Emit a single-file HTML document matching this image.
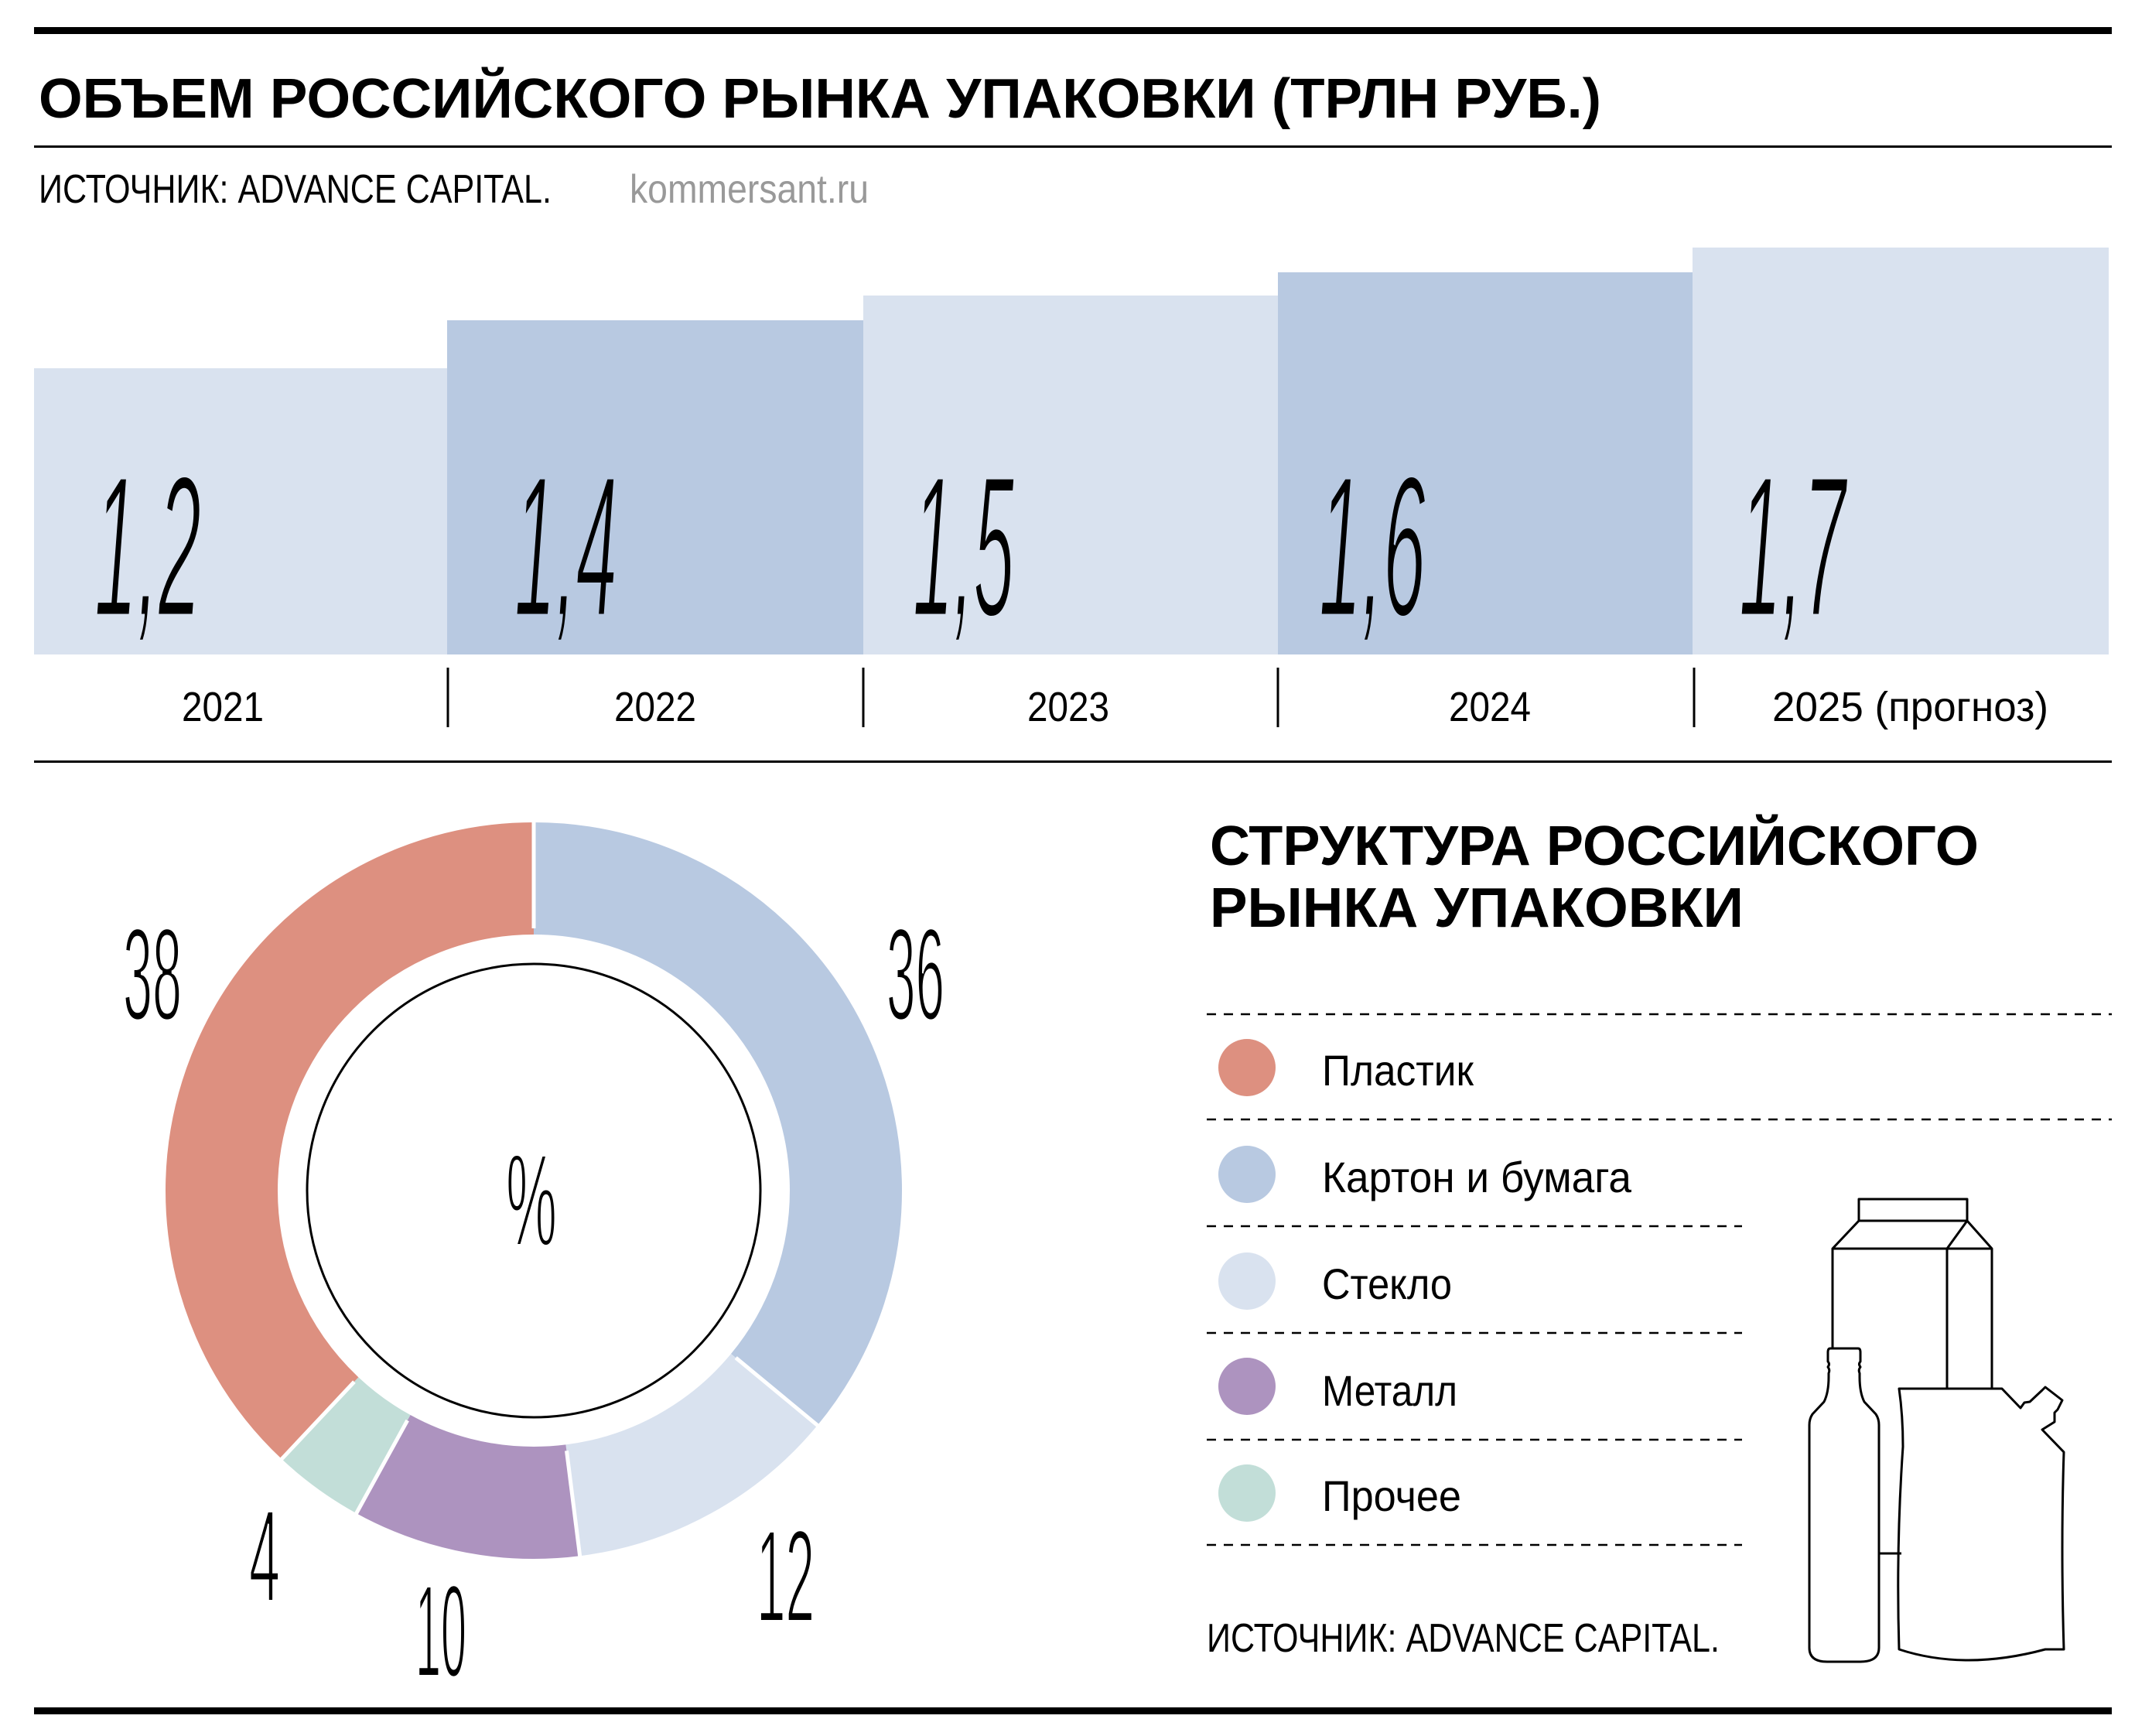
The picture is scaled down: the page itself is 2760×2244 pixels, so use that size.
<!DOCTYPE html>
<html><head><meta charset="utf-8"><style>
html,body{margin:0;padding:0;background:#fff}
svg{display:block}
text{font-family:"Liberation Sans","Noto Sans CJK SC",sans-serif}
</style></head><body>
<svg width="2760" height="2244" viewBox="0 0 2760 2244" xmlns="http://www.w3.org/2000/svg">
<rect x="44" y="35" width="2686" height="9" fill="#000"/>
<text x="50" y="152" font-size="72" font-weight="bold" textLength="2020" lengthAdjust="spacingAndGlyphs">ОБЪЕМ РОССИЙСКОГО РЫНКА УПАКОВКИ (ТРЛН РУБ.)</text>
<rect x="44" y="188" width="2686" height="3" fill="#000"/>
<text x="50" y="262" font-size="52" textLength="663" lengthAdjust="spacingAndGlyphs">ИСТОЧНИК: ADVANCE CAPITAL.</text>
<text x="814" y="262" font-size="52" fill="#999" textLength="309" lengthAdjust="spacingAndGlyphs">kommersant.ru</text>
<!-- bars -->
<rect x="44" y="476" width="534" height="370" fill="#d9e2ef"/>
<rect x="578" y="414" width="538" height="432" fill="#b8c9e1"/>
<rect x="1116" y="382" width="536" height="464" fill="#d9e2ef"/>
<rect x="1652" y="352" width="536" height="494" fill="#b8c9e1"/>
<rect x="2188" y="320" width="538" height="526" fill="#d9e2ef"/>
<g font-size="260" font-style="italic" stroke-width="5">
<text x="122" y="796" textLength="138" lengthAdjust="spacingAndGlyphs" stroke="#d9e2ef">1,2</text>
<text x="665" y="796" textLength="133" lengthAdjust="spacingAndGlyphs" stroke="#b8c9e1">1,4</text>
<text x="1180" y="796" textLength="131" lengthAdjust="spacingAndGlyphs" stroke="#d9e2ef">1,5</text>
<text x="1705" y="796" textLength="138" lengthAdjust="spacingAndGlyphs" stroke="#b8c9e1">1,6</text>
<text x="2248" y="796" textLength="138" lengthAdjust="spacingAndGlyphs" stroke="#d9e2ef">1,7</text>
</g>
<g font-size="54">
<text x="235" y="932" textLength="106" lengthAdjust="spacingAndGlyphs">2021</text>
<text x="794" y="932" textLength="106" lengthAdjust="spacingAndGlyphs">2022</text>
<text x="1328" y="932" textLength="106" lengthAdjust="spacingAndGlyphs">2023</text>
<text x="1873" y="932" textLength="106" lengthAdjust="spacingAndGlyphs">2024</text>
<text x="2291" y="932" textLength="357" lengthAdjust="spacingAndGlyphs">2025 (прогноз)</text>
</g>
<g stroke="#000" stroke-width="3">
<line x1="579" y1="863" x2="579" y2="940"/>
<line x1="1116" y1="863" x2="1116" y2="940"/>
<line x1="1652" y1="863" x2="1652" y2="940"/>
<line x1="2190" y1="863" x2="2190" y2="940"/>
</g>
<rect x="44" y="983" width="2686" height="3" fill="#000"/>
<!-- donut -->
<g transform="rotate(-90 690 1539)" fill="none" stroke-width="145">
<circle cx="690" cy="1539" r="403.5" stroke="#b8c9e1" stroke-dasharray="912.7 3000" stroke-dashoffset="0"/>
<circle cx="690" cy="1539" r="403.5" stroke="#d9e2ef" stroke-dasharray="304.2 3000" stroke-dashoffset="-912.7"/>
<circle cx="690" cy="1539" r="403.5" stroke="#ad93bf" stroke-dasharray="253.5 3000" stroke-dashoffset="-1216.9"/>
<circle cx="690" cy="1539" r="403.5" stroke="#c2ded8" stroke-dasharray="101.4 3000" stroke-dashoffset="-1470.4"/>
<circle cx="690" cy="1539" r="403.5" stroke="#dd9080" stroke-dasharray="963.4 3000" stroke-dashoffset="-1571.8"/>
</g>
<g stroke="#fff" stroke-width="5">
<line x1="690" y1="1200" x2="690" y2="1050" transform="rotate(0 690 1539)"/>
<line x1="690" y1="1200" x2="690" y2="1050" transform="rotate(129.6 690 1539)"/>
<line x1="690" y1="1200" x2="690" y2="1050" transform="rotate(172.8 690 1539)"/>
<line x1="690" y1="1200" x2="690" y2="1050" transform="rotate(208.8 690 1539)"/>
<line x1="690" y1="1200" x2="690" y2="1050" transform="rotate(223.2 690 1539)"/>
</g>
<circle cx="690" cy="1539" r="293" fill="none" stroke="#000" stroke-width="3"/>
<g font-size="170" stroke="#fff" stroke-width="4">
<text x="159" y="1318" textLength="76" lengthAdjust="spacingAndGlyphs">38</text>
<text x="1146" y="1318" textLength="75" lengthAdjust="spacingAndGlyphs">36</text>
<text x="978" y="2096" textLength="75" lengthAdjust="spacingAndGlyphs">12</text>
<text x="537" y="2167" textLength="66" lengthAdjust="spacingAndGlyphs">10</text>
<text x="322" y="2070" textLength="40" lengthAdjust="spacingAndGlyphs">4</text>
<text x="654" y="1610" textLength="66" lengthAdjust="spacingAndGlyphs">%</text>
</g>
<!-- right -->
<text x="1564" y="1118" font-size="72" font-weight="bold" textLength="994" lengthAdjust="spacingAndGlyphs">СТРУКТУРА РОССИЙСКОГО</text>
<text x="1564" y="1198" font-size="72" font-weight="bold" textLength="690" lengthAdjust="spacingAndGlyphs">РЫНКА УПАКОВКИ</text>
<g stroke="#000" stroke-width="2.5" stroke-dasharray="12 10">
<line x1="1560" y1="1311" x2="2730" y2="1311"/>
<line x1="1560" y1="1447" x2="2730" y2="1447"/>
<line x1="1560" y1="1585" x2="2252" y2="1585"/>
<line x1="1560" y1="1723" x2="2252" y2="1723"/>
<line x1="1560" y1="1861" x2="2252" y2="1861"/>
<line x1="1560" y1="1997" x2="2252" y2="1997"/>
</g>
<circle cx="1612" cy="1380" r="37" fill="#dd9080"/>
<circle cx="1612" cy="1518" r="37" fill="#b8c9e1"/>
<circle cx="1612" cy="1656" r="37" fill="#d9e2ef"/>
<circle cx="1612" cy="1792" r="37" fill="#ad93bf"/>
<circle cx="1612" cy="1930" r="37" fill="#c2ded8"/>
<g font-size="56">
<text x="1709" y="1403" textLength="196" lengthAdjust="spacingAndGlyphs">Пластик</text>
<text x="1709" y="1541" textLength="400" lengthAdjust="spacingAndGlyphs">Картон и бумага</text>
<text x="1709" y="1679" textLength="168" lengthAdjust="spacingAndGlyphs">Стекло</text>
<text x="1709" y="1817" textLength="175" lengthAdjust="spacingAndGlyphs">Металл</text>
<text x="1709" y="1953" textLength="180" lengthAdjust="spacingAndGlyphs">Прочее</text>
</g>
<text x="1560" y="2135" font-size="52" textLength="663" lengthAdjust="spacingAndGlyphs">ИСТОЧНИК: ADVANCE CAPITAL.</text>
<!-- illustration -->
<g fill="none" stroke="#000" stroke-width="3" stroke-linejoin="round">
<rect x="2403" y="1550" width="140" height="28"/>
<path d="M2403 1578 L2369 1614 L2575 1614 L2543 1578 L2517 1614 M2369 1614 L2369 1742 M2517 1614 L2517 1795 M2575 1614 L2575 1795"/>
<path d="M2366 1743 L2402 1743 Q2405 1743 2405 1748 L2405 1760 Q2402 1763 2405 1767 Q2402 1771 2404 1775 L2404 1780 Q2404 1800 2410 1812 L2425 1828 Q2429 1834 2429 1842 L2429 2130 Q2429 2148 2405 2148 L2362 2148 Q2339 2148 2339 2130 L2339 1842 Q2339 1834 2343 1828 L2358 1812 Q2364 1800 2364 1780 L2364 1775 Q2366 1771 2363 1767 Q2366 1763 2363 1760 L2363 1748 Q2363 1743 2366 1743 Z"/>
<line x1="2429" y1="2008" x2="2458" y2="2008"/>
<path d="M2455 1795 L2588 1795 L2612 1820 L2617 1813 L2624 1812 L2640 1797 L2644 1793 L2666 1810 L2660 1822 L2656 1826 L2656 1838 L2640 1848 L2668 1877 Q2664 2000 2668 2132 L2644 2132 Q2540 2160 2455 2132 Q2451 2000 2460 1870 Q2460 1830 2455 1795 Z"/>
</g>
<rect x="44" y="2207" width="2686" height="9" fill="#000"/>
</svg>
</body></html>
